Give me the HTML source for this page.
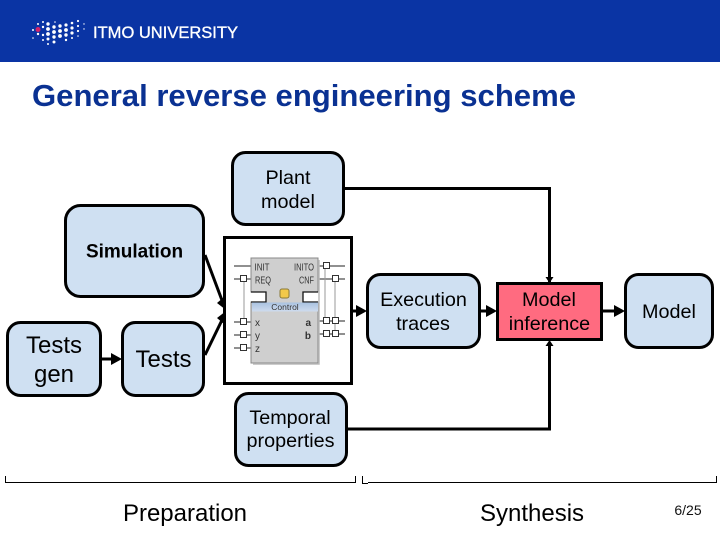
<!DOCTYPE html>
<html>
<head>
<meta charset="utf-8">
<style>
html,body{margin:0;padding:0;background:#fff;}
svg{display:block;}
text{font-family:"Liberation Sans",sans-serif;}
</style>
</head>
<body>
<svg xmlns="http://www.w3.org/2000/svg" width="720" height="540" viewBox="0 0 720 540">
<defs>
<linearGradient id="g" x1="0" y1="0" x2="0" y2="1"><stop offset="0" stop-color="#a9c2e0"/><stop offset="1" stop-color="#cfdcee"/></linearGradient>
</defs>
<rect width="720" height="540" fill="#fff"/>
<rect width="720" height="62" fill="#0a34a4"/>
<!-- logo dots -->
<g fill="#fff">
<circle cx="33" cy="30" r="1"/><circle cx="33" cy="38" r="0.8"/>
<circle cx="38" cy="24" r="1"/><circle cx="38" cy="34" r="1.2"/>
<circle cx="43" cy="22" r="1"/><circle cx="43" cy="27" r="1.2"/><circle cx="43" cy="35" r="1.2"/><circle cx="43" cy="40" r="1"/>
<circle cx="48" cy="24" r="1.7"/><circle cx="48" cy="29" r="1.9"/><circle cx="48" cy="34" r="1.9"/><circle cx="48" cy="39" r="1.5"/><circle cx="48" cy="44" r="1"/>
<circle cx="54" cy="27" r="1.7"/><circle cx="54" cy="32" r="1.9"/><circle cx="54" cy="37" r="1.7"/><circle cx="54" cy="42" r="1.5"/>
<circle cx="60" cy="26" r="1.7"/><circle cx="60" cy="31" r="1.9"/><circle cx="60" cy="36" r="1.9"/><circle cx="55" cy="22" r="0.8"/>
<circle cx="66" cy="25" r="1.6"/><circle cx="66" cy="30" r="1.9"/><circle cx="66" cy="35" r="1.7"/><circle cx="66" cy="40" r="1.2"/>
<circle cx="72" cy="23" r="1.3"/><circle cx="72" cy="28" r="1.6"/><circle cx="72" cy="33" r="1.6"/><circle cx="72" cy="38" r="1"/>
<circle cx="78" cy="21" r="1.1"/><circle cx="78" cy="26" r="1.1"/><circle cx="78" cy="31" r="1.1"/><circle cx="78" cy="36" r="0.8"/>
<circle cx="84" cy="24" r="0.7"/><circle cx="84" cy="29" r="0.7"/>
</g>
<circle cx="38" cy="29.500" r="2.500" fill="#d0226a"/>
<text x="93" y="38" font-size="16.500" fill="#fff" stroke="#fff" stroke-width="0.350" textLength="145" lengthAdjust="spacingAndGlyphs">ITMO UNIVERSITY</text>
<text x="32" y="106" font-size="31" font-weight="bold" fill="#0a3192" textLength="544" lengthAdjust="spacingAndGlyphs">General reverse engineering scheme</text>

<!-- connectors -->
<g fill="none" stroke="#000">
<path d="M344 188.500H549.500V284" stroke-width="3"/>
<path d="M347 429H549.500V345" stroke-width="3"/>
<path d="M101 359H114" stroke-width="3"/>
<path d="M352 311H360" stroke-width="3"/>
<path d="M480 311H490" stroke-width="3"/>
<path d="M602 311H617" stroke-width="3"/>
</g>
<g fill="#000">
<polygon points="122,359 111,353 111,365"/>
<polygon points="367,311 356,305 356,317"/>
<polygon points="497,311 486,305 486,317"/>
<polygon points="625,311 614,305 614,317"/>
</g>

<!-- nodes -->
<g fill="#cfe0f2" stroke="#000" stroke-width="3">
<rect x="232.500" y="152.500" width="111" height="72" rx="13"/>
<rect x="65.500" y="205.500" width="138" height="91" rx="15"/>
<rect x="7.500" y="322.500" width="93" height="73" rx="13"/>
<rect x="122.500" y="322.500" width="81" height="73" rx="13"/>
<rect x="367.500" y="274.500" width="112" height="73" rx="13"/>
<rect x="625.500" y="274.500" width="87" height="73" rx="13"/>
<rect x="235.500" y="393.500" width="111" height="72" rx="13"/>
</g>
<rect x="224.500" y="237.500" width="127" height="146" fill="#fff" stroke="#000" stroke-width="3"/>
<rect x="497.500" y="283.500" width="104" height="56" fill="#ff6b80" stroke="#000" stroke-width="3"/>
<g fill="#000">
<polygon points="549.500,283 545.500,277 553.500,277"/>
<polygon points="549.500,340 545.500,346 553.500,346"/>
</g>

<!-- arrows into model block (drawn over border) -->
<g fill="none" stroke="#000" stroke-width="3">
<path d="M205 255L223 303"/>
<path d="M205 355L223 318"/>
</g>
<g fill="#000">
<polygon points="226,310 217,303 224,297"/>
<polygon points="226,311 217,318 224,324"/>
</g>

<!-- function block -->
<g stroke="#222" stroke-width="1" fill="none">
<path d="M234 266H251M234 279H251M234 322H251M234 335H251M234 348H251"/>
<path d="M318 266H345M318 279H345M318 321H345M318 334H345"/>
</g>
<g stroke="#999" stroke-width="1" fill="none">
<path d="M244 279V322M325 266V321M335 279V334"/>
</g>
<path d="M251 258H318V292H303V302H318V363H251V302H266V292H251Z" fill="#cfcfcf" stroke="#888" stroke-width="1"/>
<path d="M251 292H266V302H251M318 292H303V302H318" fill="#fff" stroke="#111" stroke-width="1.300"/>
<rect x="252" y="302.500" width="66" height="9" fill="url(#g)"/>
<path d="M319 260V364H253" fill="none" stroke="#bbb" stroke-width="1.500"/>
<rect x="280" y="289" width="9" height="9" rx="2" fill="#f2c94a" stroke="#8a7a3a"/>
<g fill="#fff" stroke="#333" stroke-width="1">
<rect x="240.500" y="275.500" width="6" height="6"/><rect x="240.500" y="318.500" width="6" height="6"/><rect x="240.500" y="331.500" width="6" height="6"/><rect x="240.500" y="344.500" width="6" height="6"/>
<rect x="323.500" y="262.500" width="6" height="6"/><rect x="332.500" y="275.500" width="6" height="6"/>
<rect x="323.500" y="317.500" width="6" height="6"/><rect x="332.500" y="317.500" width="6" height="6"/>
<rect x="323.500" y="330.500" width="6" height="6"/><rect x="332.500" y="330.500" width="6" height="6"/>
</g>
<g font-size="10" fill="#333">
<text x="254.500" y="270.500" textLength="15" lengthAdjust="spacingAndGlyphs">INIT</text>
<text x="255" y="283.500" textLength="16" lengthAdjust="spacingAndGlyphs">REQ</text>
<text x="255" y="326">x</text>
<text x="255" y="339">y</text>
<text x="255" y="352">z</text>
<text x="294" y="270.500" textLength="20" lengthAdjust="spacingAndGlyphs">INITO</text>
<text x="299" y="283.500" textLength="15" lengthAdjust="spacingAndGlyphs">CNF</text>
<text x="311" y="326" text-anchor="end" font-weight="bold">a</text>
<text x="311" y="339" text-anchor="end" font-weight="bold">b</text>
<text x="285" y="310" text-anchor="middle" font-size="8.500">Control</text>
</g>

<!-- labels -->
<g font-size="19.800" fill="#000" text-anchor="middle">
<text x="288" y="184">Plant</text>
<text x="288" y="208">model</text>
<text x="134.500" y="257.500" font-weight="bold" font-size="19">Simulation</text>
<text x="423.500" y="306">Execution</text>
<text x="423" y="330">traces</text>
<text x="549" y="306">Model</text>
<text x="549.500" y="330">inference</text>
<text x="669" y="318">Model</text>
<text x="290" y="424">Temporal</text>
<text x="290.500" y="447">properties</text>
</g>
<g font-size="24" fill="#000" text-anchor="middle">
<text x="54" y="353">Tests</text>
<text x="54" y="382">gen</text>
<text x="163.500" y="367">Tests</text>
<text x="185" y="521">Preparation</text>
<text x="532" y="521">Synthesis</text>
</g>
<text x="688" y="515" font-size="14" fill="#111" text-anchor="middle">6/25</text>

<!-- brackets -->
<g fill="none" stroke="#000" stroke-width="1">
<path d="M5.500 476V482.500H355.500V476"/>
<path d="M362.500 476V483.500H368M368 482.500H716.500V476"/>
</g>
</svg>
</body>
</html>
